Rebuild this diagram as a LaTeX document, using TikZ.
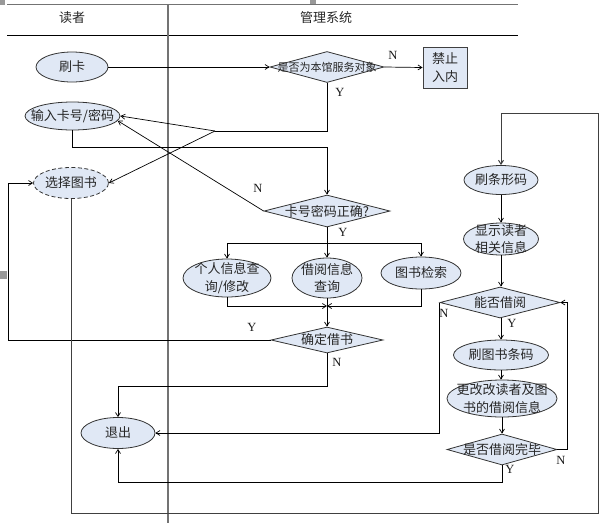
\documentclass[tikz,border=0pt]{standalone}
\usepackage{fontspec}
\setmainfont{Liberation Serif}
\newfontfamily\cjk{Noto Sans CJK SC}
\usetikzlibrary{shapes.geometric,arrows.meta}
\definecolor{shapefill}{RGB}{224,232,245}
\begin{document}
\begin{tikzpicture}[x=1pt,y=-1pt,
  conn/.style={draw=black, line width=0.7pt},
  arr/.style={conn,-{Straight Barb[length=4pt,width=5pt]}},
  loopline/.style={arr, draw=black!75, line width=1pt},
  ell/.style={ellipse, draw=black!80, fill=shapefill, line width=0.8pt, inner sep=0pt},
  dia/.style={diamond, draw=black!80, fill=shapefill, line width=0.8pt, inner sep=0pt},
  boxst/.style={rectangle, draw=black!75, fill=shapefill, line width=0.9pt, inner sep=0pt},
  txt/.style={font=\cjk\fontsize{13}{17.5}\selectfont, text=black!85, align=center, inner sep=0pt},
  smalltxt/.style={txt, font=\cjk\fontsize{11}{13}\selectfont},
  yn/.style={font=\fontsize{12.5}{12.5}\selectfont, text=black!90, inner sep=0pt},
  anchorsq/.style={fill=black!40, draw=none},
  lane/.style={draw=black!55, line width=1.6pt},
  laneb/.style={draw=black, line width=0.8pt}
]
\useasboundingbox (0,0) rectangle (616,523);

% Word anchor marks
\fill[anchorsq] (0,0) rectangle (5,5);
\fill[anchorsq] (310,0) rectangle (316,5);
\fill[anchorsq] (0,271) rectangle (7,279);

% swimlane frame
\draw[lane] (7,4.5) -- (518,4.5);
\draw[laneb] (7,35) -- (518,35);
\draw[lane] (168,5) -- (168,523);
\node[txt] (h1) at (72,18) {读者};
\node[txt] (h2) at (326,18) {管理系统};

% nodes
\node[ell, minimum width=72pt, minimum height=30pt] (shuaka) at (72,67) {};
\node[txt] at (shuaka) {刷卡};
\node[dia, minimum width=114pt, minimum height=31pt] (fuwu) at (327,67) {};
\node[smalltxt] at (fuwu) {是否为本馆服务对象};
\node[boxst, minimum width=44pt, minimum height=41pt] (jinzhi) at (445,67.5) {};
\node[txt] at (jinzhi) {禁止\\入内};
\node[ell, minimum width=95pt, minimum height=28pt] (shuru) at (72.5,116) {};
\node[txt] at (shuru) {输入卡号/密码};
\node[ell, dashed, dash pattern=on 4pt off 2.5pt, minimum width=75pt, minimum height=31pt] (xuanze) at (71,183) {};
\node[txt] at (xuanze) {选择图书};
\node[dia, minimum width=126pt, minimum height=32pt] (mima) at (327,211) {};
\node[txt] at (mima) {卡号密码正确?};
\node[ell, minimum width=88pt, minimum height=38pt] (geren) at (227,278) {};
\node[txt] at (geren) {个人信息查\\询/修改};
\node[ell, minimum width=70pt, minimum height=40pt] (jieyue) at (327,278) {};
\node[txt] at (jieyue) {借阅信息\\查询};
\node[ell, minimum width=80pt, minimum height=32pt] (jiansuo) at (421,273) {};
\node[txt] at (jiansuo) {图书检索};
\node[dia, minimum width=112pt, minimum height=26pt] (queding) at (327,340) {};
\node[txt] at (queding) {确定借书};
\node[ell, minimum width=74pt, minimum height=31pt] (tuichu) at (118,433) {};
\node[txt] at (tuichu) {退出};
\node[ell, minimum width=74pt, minimum height=29pt] (tiaoxing) at (501,180) {};
\node[txt] at (tiaoxing) {刷条形码};
\node[ell, minimum width=75pt, minimum height=32pt] (xianshi) at (501,239) {};
\node[txt] at (xianshi) {显示读者\\相关信息};
\node[dia, minimum width=120pt, minimum height=31pt] (nengfou) at (500,302.5) {};
\node[txt] at (nengfou) {能否借阅};
\node[ell, minimum width=95pt, minimum height=30pt] (tushu) at (501,355) {};
\node[txt] at (tushu) {刷图书条码};
\node[ell, minimum width=110pt, minimum height=37pt] (genggai) at (502,398.5) {};
\node[txt] at (genggai) {更改改读者及图\\书的借阅信息};
\node[dia, minimum width=110pt, minimum height=31pt] (wanbi) at (502,449.5) {};
\node[txt] at (wanbi) {是否借阅完毕};

% helper coordinates
\coordinate (j1) at (215,131);
\coordinate (j2) at (327,243);
\coordinate (j3) at (327,306);

% connectors
\draw[arr] (shuaka.east) -- (fuwu.west);
\draw[arr] (fuwu.east) -- (jinzhi.west);
\node[yn] (n1) at (393,55) {N};
\draw[conn] (fuwu.south) |- (j1);
\node[yn] (y1) at (340,92) {Y};
\draw[arr] (j1) -- (shuru.east);
\draw[arr] (j1) -- (xuanze.east);
\draw[arr] (shuru.south) -- ++(0,17) -| (mima.north);
\draw[arr] (mima.west) -- (shuru.-6);
\node[yn] (n2) at (258,188) {N};
\draw[conn] (mima.south) -- (j2);
\node[yn] (y2) at (343,232) {Y};
\draw[arr] (j2) -| (geren.north);
\draw[arr] (j2) -- (jieyue.north);
\draw[arr] (j2) -| (jiansuo.north);
\draw[arr] (geren.south) |- (j3);
\draw[arr] (jiansuo.south) |- (j3);
\draw[arr] (jieyue.south) -- (queding.north);
\draw[arr] (queding.west) -- (8,340) |- (xuanze.west);
\node[yn] (y3) at (252,327) {Y};
\draw[arr] (queding.south) -- ++(0,33) -| (tuichu.north);
\node[yn] (n3) at (337,362) {N};
\draw[loopline] (xuanze.south) -- (71,513) -- (598,513) -- (598,113) -| (tiaoxing.north);
\draw[arr] (tiaoxing.south) -- (xianshi.north);
\draw[arr] (xianshi.south) -- (xianshi.south |- nengfou.north);
\draw[arr] (nengfou.west) |- (tuichu.east);
\node[yn] (n4) at (444,313) {N};
\draw[arr] (tushu.north |- nengfou.south) -- (tushu.north);
\node[yn] (y4) at (512,323) {Y};
\draw[arr] (tushu.south) -- (tushu.south |- genggai.north);
\draw[arr] (genggai.south) -- (wanbi.north);
\draw[arr] (wanbi.east) -- ++(10,0) |- (nengfou.east);
\node[yn] (n5) at (561,460) {N};
\draw[arr] (wanbi.south) -- ++(0,17) -| (tuichu.south);
\node[yn] (y5) at (510,469) {Y};
\end{tikzpicture}
\end{document}
